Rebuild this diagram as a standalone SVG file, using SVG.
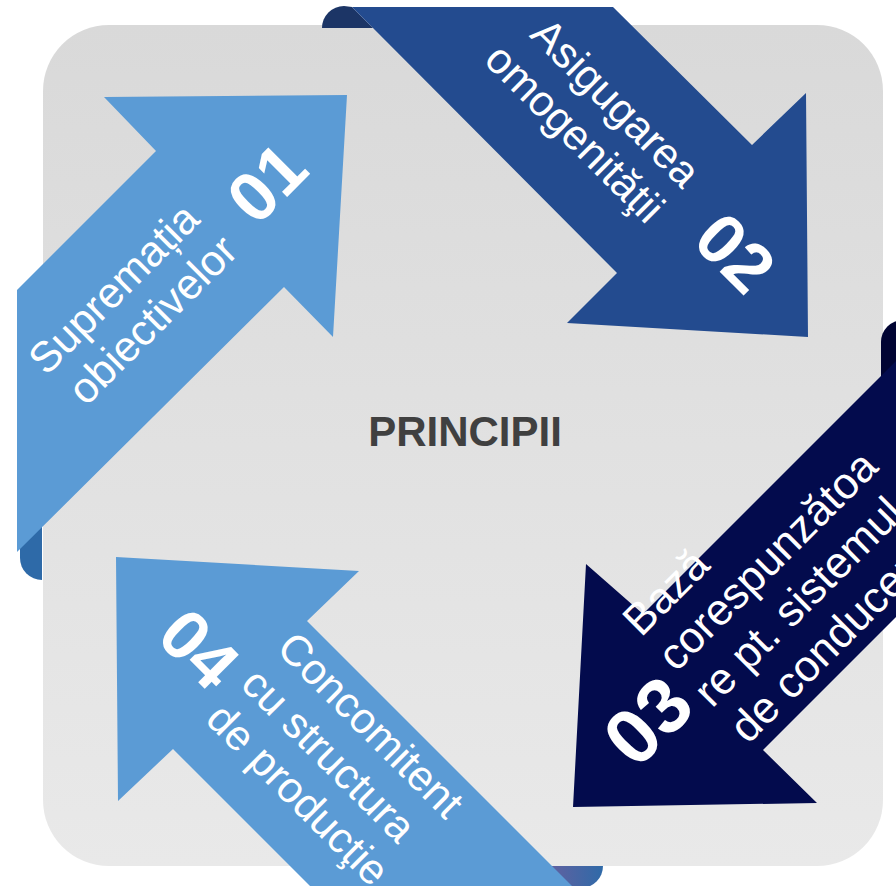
<svg xmlns="http://www.w3.org/2000/svg" width="896" height="886" viewBox="0 0 896 886">
<defs>
<linearGradient id="bg" x1="0" y1="0" x2="0" y2="1">
<stop offset="0" stop-color="#d9d9d9"/>
<stop offset="1" stop-color="#e9e9e9"/>
</linearGradient>
<linearGradient id="curl4" x1="0" y1="0" x2="1" y2="0">
<stop offset="0" stop-color="#6a5f9f"/>
<stop offset="1" stop-color="#2f6aa8"/>
</linearGradient>
<style>
.t{font-family:"Liberation Sans",Arial,sans-serif;font-size:43px;fill:#ffffff}
.t3{font-family:"Liberation Sans",Arial,sans-serif;font-size:44px;fill:#ffffff}
.n{font-family:"Liberation Sans",Arial,sans-serif;font-size:70px;font-weight:bold;fill:#ffffff}
.n3{font-family:"Liberation Sans",Arial,sans-serif;font-size:78px;font-weight:bold;fill:#ffffff}
.c{font-family:"Liberation Sans",Arial,sans-serif;font-size:42px;font-weight:bold;fill:#404040}
</style>
</defs>
<rect id="background" x="43" y="25" width="840" height="841" rx="66" ry="66" fill="url(#bg)"/>
<g id="connectors"/>
<g id="arrow1">
<path d="M42,520 L42,580 A22,22 0 0 1 20,558 L20,530 Z" fill="#2e6aa8"/>
<polygon points="104,97 347,95 333,337 284,287 17,552 17,290 156,151" fill="#5b9bd5"/>
<text class="t" text-anchor="middle" transform="translate(124,299) rotate(-45)">Supremația</text>
<text class="t" text-anchor="middle" transform="translate(163,330) rotate(-45)">obiectivelor</text>
<text class="n" text-anchor="middle" transform="translate(284,200) rotate(-45)">01</text>
</g>
<g id="arrow2">
<path d="M373,28 L322,28 A22,22 0 0 1 344,6 L352,7 Z" fill="#1c3566"/>
<polygon points="352,7 613,7 752,145 806,93 808,337 567,323 617,273 373,28" fill="#234b8f"/>
<text class="t" text-anchor="middle" transform="translate(605.5,113) rotate(45)">Asigugarea</text>
<text class="t" text-anchor="middle" transform="translate(564.5,143.5) rotate(45)">omogenităţii</text>
<text class="n" text-anchor="middle" transform="translate(718,270) rotate(45)">02</text>
</g>
<g id="arrow3">
<path d="M881,380 L881,342 A22,22 0 0 1 903,320 L903,380 Z" fill="#010433"/>
<polygon points="586,564 643,614 930,327 930,583 763,750 817,803 573,807" fill="#030b4d"/>
<text class="t3" transform="translate(641,638) rotate(-45)">Bază</text>
<text class="t3" transform="translate(676,673) rotate(-45)">corespunzătoa</text>
<text class="t3" transform="translate(712,709) rotate(-45)">re pt. sistemul</text>
<text class="t3" transform="translate(748,745) rotate(-45)">de conducere</text>
<text class="n3" text-anchor="middle" transform="translate(667,740) rotate(-45)">03</text>
</g>
<g id="arrow4">
<path d="M540,866 L603,866 A22,22 0 0 1 581,888 L540,888 Z" fill="url(#curl4)"/>
<polygon points="116,557 359,571 307,621 600,914 338,914 173,749 118,801" fill="#5b9bd5"/>
<text class="t" transform="translate(275,650) rotate(45)">Concomitent</text>
<text class="t" transform="translate(239,686) rotate(45)">cu structura</text>
<text class="t" transform="translate(204,721) rotate(45)">de producţie</text>
<text class="n" text-anchor="middle" transform="translate(182,666) rotate(45)">04</text>
</g>
<g id="center">
<text class="c" text-anchor="middle" x="465" y="446">PRINCIPII</text>
</g>
</svg>
